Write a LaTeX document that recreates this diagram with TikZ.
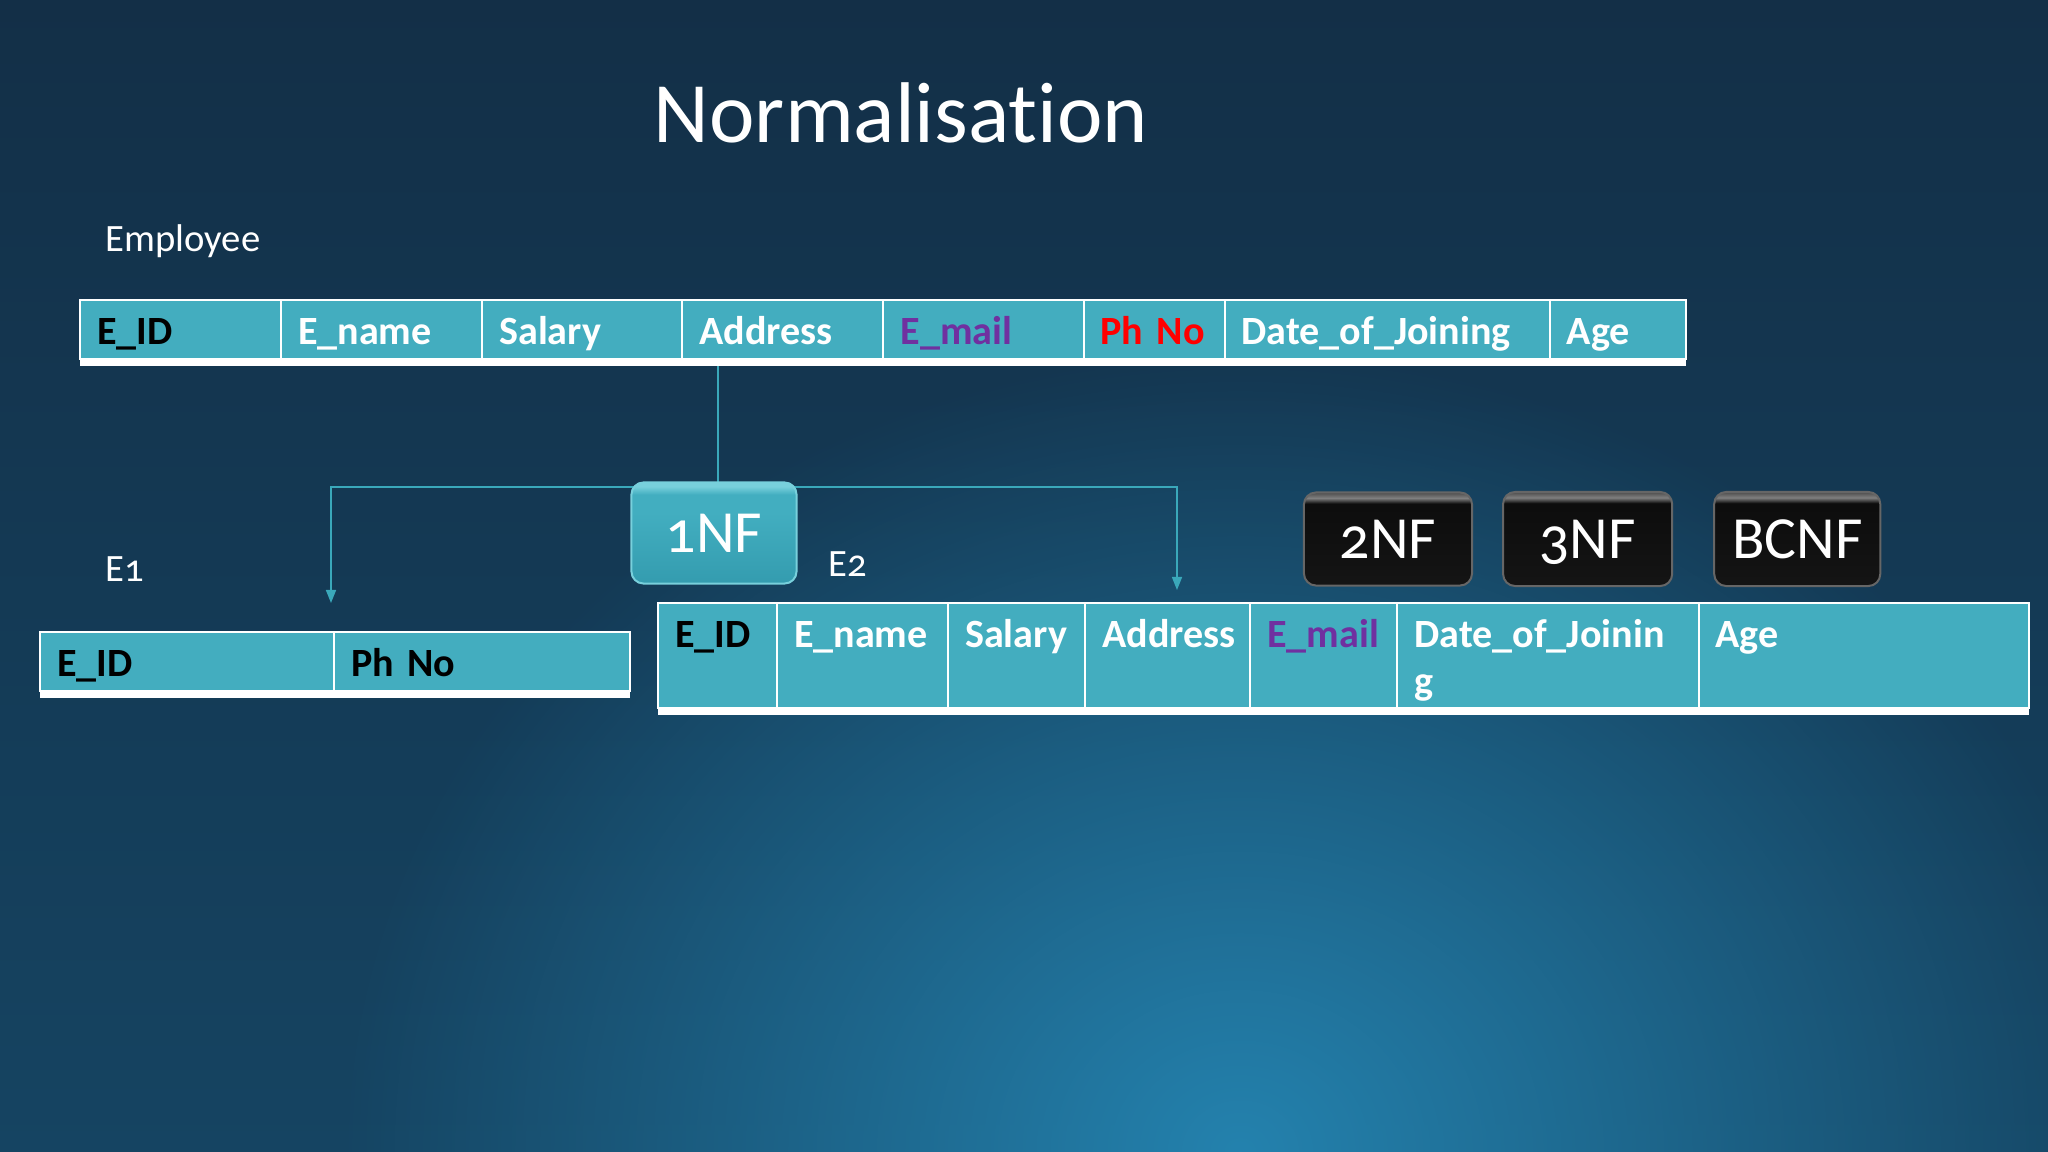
\documentclass[tikz,border=0pt]{standalone}
\usepackage{fontspec}
\setmainfont{Carlito}[Ligatures=NoCommon]
\newfontfamily\oldnum{Carlito}[Numbers=OldStyle, Ligatures=NoCommon]
\usepackage{tikz}
\usetikzlibrary{shapes,arrows.meta,chains,positioning,calc,fadings,backgrounds}
\hyphenpenalty=10000
\exhyphenpenalty=10000
\newcommand\cellstrut{\rule{0pt}{11.3pt}}
\newcommand\cellfoot{\rule[-2.5pt]{0pt}{2.5pt}}

\definecolor{bgtop}{RGB}{19,47,71}
\definecolor{bgbot}{RGB}{21,68,98}
\definecolor{bglight}{RGB}{36,130,174}
\definecolor{cellfill}{RGB}{67,173,191}
\definecolor{linkcol}{RGB}{58,168,186}
\definecolor{mailcol}{RGB}{112,48,160}
\definecolor{phcol}{RGB}{255,0,0}
\definecolor{nfteal}{RGB}{66,174,192}
\definecolor{nftealdk}{RGB}{52,156,175}
\definecolor{nfteallt}{RGB}{120,208,220}

% glossy fills for the 1NF ... BCNF buttons
\pgfdeclareverticalshading{tealgloss}{100bp}{color(0bp)=(nftealdk); color(25bp)=(nftealdk); color(60bp)=(nfteal); color(69bp)=(nfteal); color(73bp)=(nfteallt); color(75bp)=(nfteallt); color(100bp)=(nfteallt)}
\pgfdeclareverticalshading{darkgloss}{100bp}{color(0bp)=(black); color(25bp)=(black!92); color(69bp)=(black!95); color(72bp)=(black!50); color(75bp)=(black!70); color(100bp)=(black!70)}
\tikzfading[name=glow, inner color=transparent!0, outer color=transparent!100]

\begin{document}
\begin{tikzpicture}[%
    x=0.01cm, y=-0.01cm,        % one unit is one pixel of the slide
    >={Triangle[length=1.3mm,width=1mm]},
    node distance=0mm,          % table cells touch each other
    ]
% -------------------------------------------------
% Styles
\tikzset{
  cell/.style={draw=white, line width=0.2mm, fill=cellfill, on chain, outer sep=0pt,
    inner xsep=1.7mm, inner ysep=0pt, align=left, text=white,
    font=\bfseries\fontsize{11.4}{13.4}\selectfont},
  hdr/.style={cell, minimum height=5.9mm, text height=3.5mm, text depth=0.6mm},
  tall/.style={cell, minimum height=10.5mm},
  wd/.style={text width=#1},
  band/.style={draw=white, line width=0.7mm},
  lbl/.style={text=white, inner sep=0pt, font=\oldnum\fontsize{11}{13}\selectfont},
  nfbox/.style={rounded corners=1.2mm, text=white, inner sep=0pt, text depth=0pt,
    font=\oldnum\fontsize{17}{20}\selectfont},
  nflit/.style={nfbox, shade, shading=tealgloss, draw=nfteallt, line width=0.2mm},
  nfdark/.style={nfbox, shade, shading=darkgloss, draw=black!60, line width=0.2mm},
  link/.style={draw=linkcol, line width=0.15mm}
}
\useasboundingbox (0,0) rectangle (2048,1152);
% -------------------------------------------------
% Title and labels
\node[lbl, anchor=base, font=\fontsize{24.5}{29}\selectfont] (title) at (901,143) {Normalisation};
\node[lbl, anchor=base west] (lemp) at (105,252) {Employee};
\node[lbl, anchor=base west] (le1) at (105,582) {E1};
\node[lbl, anchor=base west] (le2) at (828,577) {E2};

% Employee table
\begin{scope}[start chain=emp going right]
\node[hdr, wd=16.7mm, anchor=north west, text=black] (emp1) at (80,300) {E\_ID};
\node[hdr, wd=16.7mm] (emp2) {E\_name};
\node[hdr, wd=16.6mm] (emp3) {Salary};
\node[hdr, wd=16.7mm] (emp4) {Address};
\node[hdr, wd=16.6mm, text=mailcol] (emp5) {E\_mail};
\node[hdr, wd=10.7mm, text=phcol] (emp6) {Ph No};
\node[hdr, wd=29.1mm] (emp7) {Date\_of\_Joining};
\node[hdr, wd=10.2mm] (emp8) {Age};
\end{scope}
\draw[band] ([yshift=-0.35mm]emp1.south west) -- ([yshift=-0.35mm]emp8.south east);

% E1 table
\begin{scope}[start chain=ea going right]
\node[hdr, wd=26mm, anchor=north west, text=black] (ea1) at (40,632) {E\_ID};
\node[hdr, wd=26.2mm, text=black] (ea2) {Ph No};
\end{scope}
\draw[band] ([yshift=-0.35mm]ea1.south west) -- ([yshift=-0.35mm]ea2.south east);

% E2 table
\begin{scope}[start chain=eb going right]
\node[tall, wd=8.5mm, anchor=north west, text=black] (eb1) at (658,603) {\cellstrut E\_ID\\\cellfoot};
\node[tall, wd=13.7mm] (eb2) {\cellstrut E\_name\\\cellfoot};
\node[tall, wd=10.3mm] (eb3) {\cellstrut Salary\\\cellfoot};
\node[tall, wd=13.1mm] (eb4) {\cellstrut Address\\\cellfoot};
\node[tall, wd=11.3mm, text=mailcol] (eb5) {\cellstrut E\_mail\\\cellfoot};
\node[tall, wd=26.7mm] (eb6) {\cellstrut Date\_of\_Joinin\\g\cellfoot};
\node[tall, wd=29.6mm] (eb7) {\cellstrut Age\\\cellfoot};
\end{scope}
\draw[band] ([yshift=-0.35mm]eb1.south west) -- ([yshift=-0.35mm]eb7.south east);

% Normal form buttons
\node[nflit, minimum width=16.5mm, minimum height=10.1mm] (nf1) at (714,533) {1NF};
\node[nfdark, minimum width=16.8mm, minimum height=9.3mm] (nf2) at (1388,539) {2NF};
\node[nfdark, minimum width=16.9mm, minimum height=9.4mm, right=2.9mm of nf2] (nf3) {3NF};
\node[nfdark, minimum width=16.6mm, minimum height=9.4mm, right=4mm of nf3] (nf4) {BCNF};

% Corner points of the split
\coordinate (c1) at (718,487);
\coordinate (c2) at (331,603);
\coordinate (c3) at (1177,590);

% -------------------------------------------------
% Slide background and connectors behind everything
\begin{pgfonlayer}{background}
\shade[top color=bgtop, bottom color=bgbot] (0,0) rectangle (2048,1152);
\fill[bglight, path fading=glow] (1240,1152) ellipse [x radius=9cm, y radius=8cm];
\draw[link] (emp4.south -| c1) -- (c1);
\draw[link, ->] (c1) -| (c2);
\draw[link, ->] (c1) -| (c3);
\end{pgfonlayer}

\end{tikzpicture}
\end{document}
